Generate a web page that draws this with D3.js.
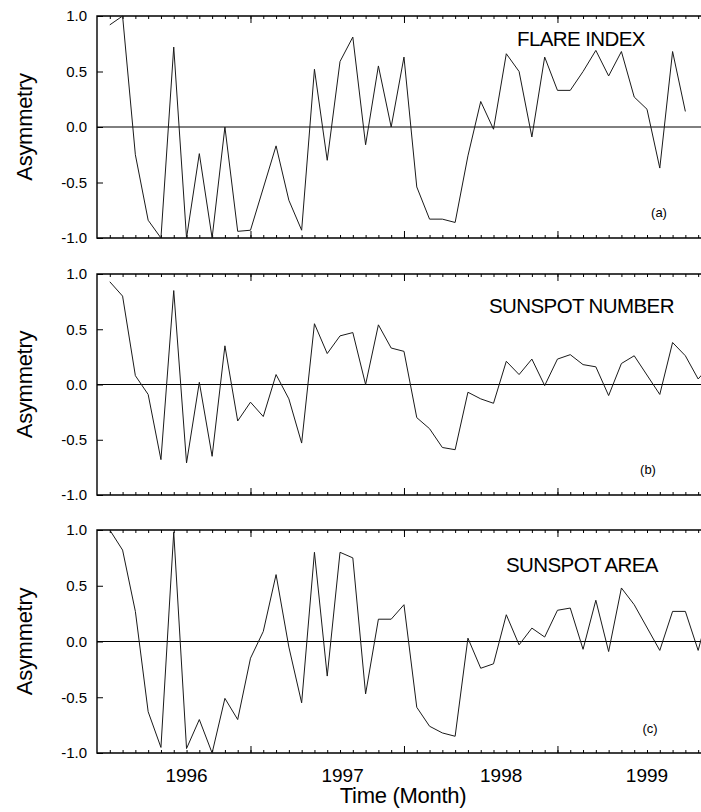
<!DOCTYPE html>
<meta charset="utf-8">
<style>
  body { margin: 0; background: #fff; }
  svg { display: block; font-family: "Liberation Sans", Arial, sans-serif; }
  .axis path { display: none; }
  .axis line { stroke: #000; stroke-width: 1; }
  .axis text { font-size: 15px; fill: #000; }
</style>
<body>
<script src="https://cdn.jsdelivr.net/npm/d3@7"></script>
<script>

// month index of every sample (0 = first month plotted)
var months = d3.range(0, 48);

// asymmetry values, null where no point is drawn
var flareIndex = [0.92, 1.0, -0.25, -0.84, -1.0, 0.72, -1.0, -0.24, -1.0, 0.0, -0.94, -0.93,
  null, -0.17, -0.66, -0.93, 0.52, -0.30, 0.59, 0.81, -0.16, 0.55, 0.0, 0.63,
  -0.54, -0.83, -0.83, -0.86, -0.26, 0.23, -0.02, 0.66, 0.50, -0.09, 0.63, 0.33,
  0.33, 0.50, 0.69, 0.46, 0.68, 0.27, 0.16, -0.37, 0.68, 0.14, null, null];

var sunspotNumber = [0.93, 0.80, 0.08, -0.09, -0.68, 0.85, -0.71, 0.02, -0.65, 0.35, -0.33, -0.16,
  -0.29, 0.09, -0.13, -0.53, 0.55, 0.28, 0.44, 0.47, 0.0, 0.54, 0.33, 0.30,
  -0.30, -0.40, -0.57, -0.59, -0.07, -0.13, -0.17, 0.21, 0.09, 0.23, -0.01, 0.23,
  0.27, 0.18, 0.16, -0.10, 0.19, 0.26, null, -0.09, 0.38, 0.26, 0.05, 0.18];

var sunspotArea = [1.0, 0.82, 0.27, -0.63, -0.95, 0.98, -0.96, -0.70, -1.0, -0.51, -0.70, -0.15,
  0.09, 0.60, -0.05, -0.55, 0.80, -0.31, 0.80, 0.75, -0.47, 0.20, 0.20, 0.33,
  -0.59, -0.76, -0.82, -0.85, 0.03, -0.24, -0.20, 0.24, -0.03, 0.12, 0.04, 0.28,
  0.30, -0.07, 0.37, -0.09, 0.48, 0.33, null, -0.08, 0.27, 0.27, -0.08, 0.35];

var panelTitles = ["FLARE INDEX", "SUNSPOT NUMBER", "SUNSPOT AREA"];
var panelTags = ["(a)", "(b)", "(c)"];

var yTicks = [-1.0, -0.5, 0.0, 0.5, 1.0];
var majorTicks = [11, 23, 35];
var yearLabels = ["1996", "1997", "1998", "1999"];
var yearPositions = [6, 18.2, 30.6, 42];

var svg = d3.select("body").append("svg")
    .attr("width", 701)
    .attr("height", 812);

var x = d3.scaleLinear()
    .domain([-1, 46.3])
    .range([97, 702]);

var minorTicks = d3.range(0, 47);

var panels = [
  {values: flareIndex,    top: 16,  bottom: 238, titleX: 517, titleY: 46,  tagX: 659, tagY: 217},
  {values: sunspotNumber, top: 274, bottom: 495, titleX: 489, titleY: 313, tagX: 648, tagY: 474},
  {values: sunspotArea,   top: 530, bottom: 753, titleX: 506, titleY: 572, tagX: 650, tagY: 733}
];

panels.forEach(function(p, k) {
  var y = d3.scaleLinear().domain([-1, 1]).range([p.bottom, p.top]);
  var g = svg.append("g");

  g.append("clipPath")
      .attr("id", "clip" + k)
    .append("rect")
      .attr("x", x.range()[0])
      .attr("y", p.top - 1)
      .attr("width", x.range()[1] - x.range()[0])
      .attr("height", p.bottom - p.top + 2);

  // zero line
  g.append("line")
      .attr("x1", x.range()[0]).attr("x2", x.range()[1])
      .attr("y1", y(0)).attr("y2", y(0))
      .attr("stroke", "#000")
      .attr("stroke-width", 1);

  // top / bottom month ticks, pointing inward
  g.append("g").attr("class", "axis")
      .attr("transform", "translate(0," + p.top + ")")
      .call(d3.axisTop(x).tickValues(minorTicks).tickSize(-3).tickFormat(""));
  g.append("g").attr("class", "axis")
      .attr("transform", "translate(0," + p.top + ")")
      .call(d3.axisTop(x).tickValues(majorTicks).tickSize(-7).tickFormat(""));
  g.append("g").attr("class", "axis")
      .attr("transform", "translate(0," + p.bottom + ")")
      .call(d3.axisBottom(x).tickValues(minorTicks).tickSize(-3).tickFormat(""));
  g.append("g").attr("class", "axis")
      .attr("transform", "translate(0," + p.bottom + ")")
      .call(d3.axisBottom(x).tickValues(majorTicks).tickSize(-7).tickFormat(""));

  // left axis
  g.append("g").attr("class", "axis")
      .attr("transform", "translate(" + x.range()[0] + ",0)")
      .call(d3.axisLeft(y).tickValues(yTicks).tickSize(-6).tickPadding(10)
        .tickFormat(function(d) { return d.toFixed(1); }));

  // frame
  g.append("path")
      .attr("d", "M" + x.range()[1] + "," + p.top + "H" + x.range()[0] + "V" + p.bottom + "H" + x.range()[1])
      .attr("fill", "none")
      .attr("stroke", "#000")
      .attr("stroke-width", 1.4);

  // data
  var pts = months.map(function(m, i) { return [m, p.values[i]]; })
      .filter(function(d) { return d[1] !== null; });

  g.append("path")
      .datum(pts)
      .attr("clip-path", "url(#clip" + k + ")")
      .attr("fill", "none")
      .attr("stroke", "#1a1a1a")
      .attr("stroke-width", 1)
      .attr("d", d3.line()
        .x(function(d) { return x(d[0]); })
        .y(function(d) { return y(d[1]); }));

  g.append("text")
      .attr("x", p.titleX)
      .attr("y", p.titleY)
      .attr("font-size", 20.5)
      .attr("letter-spacing", "-0.6px")
      .text(panelTitles[k]);

  g.append("text")
      .attr("x", p.tagX)
      .attr("y", p.tagY)
      .attr("text-anchor", "middle")
      .attr("font-size", 13)
      .text(panelTags[k]);

  svg.append("text")
      .attr("text-anchor", "middle")
      .attr("transform", "translate(32," + ((p.top + p.bottom) / 2) + ")rotate(-90)")
      .attr("font-size", 22)
      .attr("letter-spacing", "-0.3px")
      .text("Asymmetry");
});

// year labels under the last panel
svg.selectAll(".year")
    .data(yearLabels)
  .enter().append("text")
    .attr("class", "year")
    .attr("x", function(d, i) { return x(yearPositions[i]); })
    .attr("y", 782)
    .attr("text-anchor", "middle")
    .attr("font-size", 19)
    .text(function(d) { return d; });

svg.append("text")
    .attr("x", 403)
    .attr("y", 803)
    .attr("text-anchor", "middle")
    .attr("font-size", 22)
    .attr("letter-spacing", "-0.3px")
    .text("Time (Month)");

</script>
</body>
